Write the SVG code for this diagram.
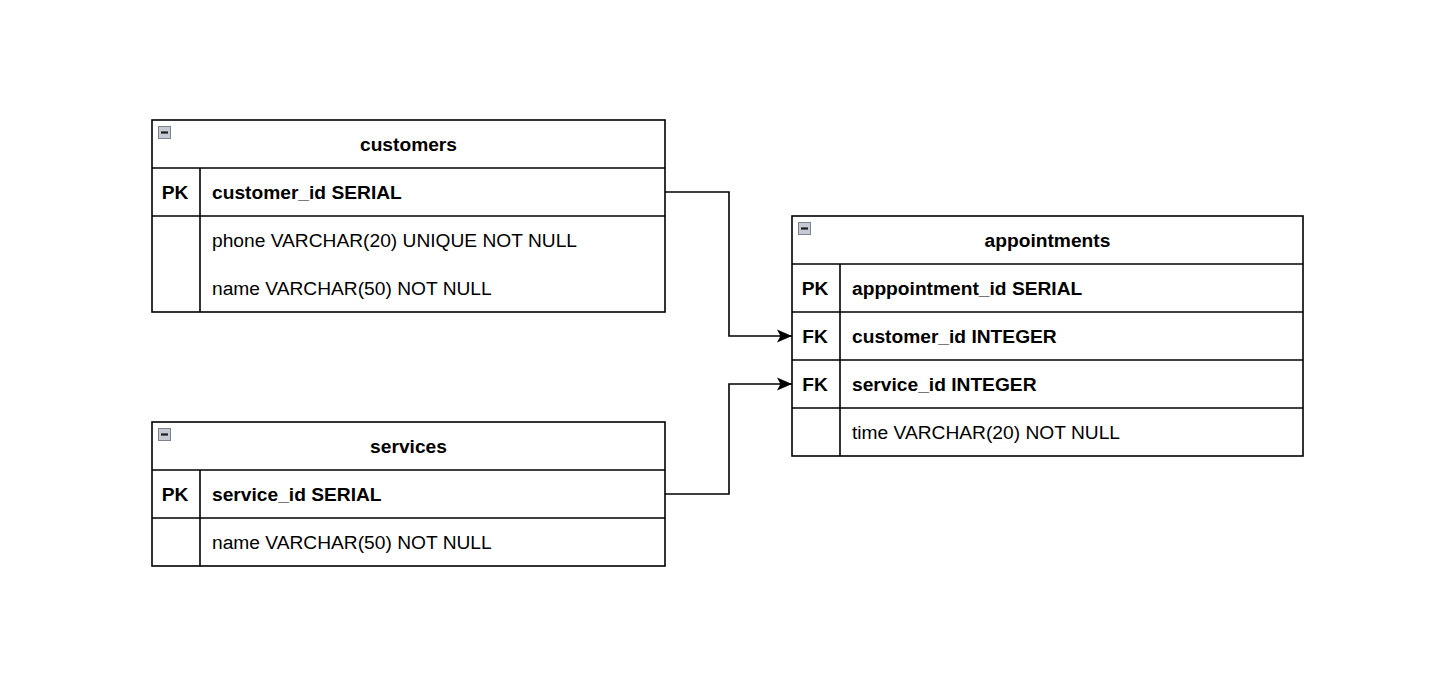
<svg xmlns="http://www.w3.org/2000/svg" width="1440" height="700" viewBox="0 0 1440 700">
<style>
.box{fill:#ffffff;stroke:#000000;stroke-width:1.6}
.ln{stroke:#000000;stroke-width:1.6;fill:none}
.t{font-family:"Liberation Sans",Arial,Helvetica,sans-serif;font-size:19.2px;fill:#000000}
.b{font-weight:bold}
.c{text-anchor:middle}
.icon{fill:#c4c9d2;stroke:#7d838c;stroke-width:1}
.minus{stroke:#1e1e1e;stroke-width:2.2}
.edge{stroke:#000000;stroke-width:1.6;fill:none}
</style>
<defs>
<marker id="arr" markerUnits="userSpaceOnUse" markerWidth="18" markerHeight="16" refX="15" refY="7" orient="auto" viewBox="0 0 18 16">
<path d="M0,0.5 L15,7 L0,13.5 L3.5,7 Z" fill="#000000"/>
</marker>
</defs>
<rect width="1440" height="700" fill="#ffffff"/>

<g id="customers">
<rect class="box" x="152" y="120" width="513" height="192"/>
<line class="ln" x1="152" y1="168" x2="665" y2="168"/>
<line class="ln" x1="152" y1="216" x2="665" y2="216"/>
<line class="ln" x1="200" y1="168" x2="200" y2="312"/>
<rect class="icon" x="158.5" y="126.5" width="12" height="12"/>
<line class="minus" x1="161" y1="132.5" x2="168" y2="132.5"/>
<text class="t b c" x="408.5" y="150.7">customers</text>
<text class="t b c" x="175" y="198.7">PK</text>
<text class="t b" x="212" y="198.7">customer_id SERIAL</text>
<text class="t" x="212" y="246.7">phone VARCHAR(20) UNIQUE NOT NULL</text>
<text class="t" x="212" y="294.7">name VARCHAR(50) NOT NULL</text>
</g>

<g id="services">
<rect class="box" x="152" y="422" width="513" height="144"/>
<line class="ln" x1="152" y1="470" x2="665" y2="470"/>
<line class="ln" x1="152" y1="518" x2="665" y2="518"/>
<line class="ln" x1="200" y1="470" x2="200" y2="566"/>
<rect class="icon" x="158.5" y="428.5" width="12" height="12"/>
<line class="minus" x1="161" y1="434.5" x2="168" y2="434.5"/>
<text class="t b c" x="408.5" y="452.7">services</text>
<text class="t b c" x="175" y="500.7">PK</text>
<text class="t b" x="212" y="500.7">service_id SERIAL</text>
<text class="t" x="212" y="548.7">name VARCHAR(50) NOT NULL</text>
</g>

<g id="appointments">
<rect class="box" x="792" y="216" width="511" height="240"/>
<line class="ln" x1="792" y1="264" x2="1303" y2="264"/>
<line class="ln" x1="792" y1="312" x2="1303" y2="312"/>
<line class="ln" x1="792" y1="360" x2="1303" y2="360"/>
<line class="ln" x1="792" y1="408" x2="1303" y2="408"/>
<line class="ln" x1="840" y1="264" x2="840" y2="456"/>
<rect class="icon" x="798.5" y="222.5" width="12" height="12"/>
<line class="minus" x1="801" y1="228.5" x2="808" y2="228.5"/>
<text class="t b c" x="1047.5" y="246.7">appointments</text>
<text class="t b c" x="815" y="294.7">PK</text>
<text class="t b" x="852" y="294.7">apppointment_id SERIAL</text>
<text class="t b c" x="815" y="342.7">FK</text>
<text class="t b" x="852" y="342.7">customer_id INTEGER</text>
<text class="t b c" x="815" y="390.7">FK</text>
<text class="t b" x="852" y="390.7">service_id INTEGER</text>
<text class="t" x="852" y="438.7">time VARCHAR(20) NOT NULL</text>
</g>

<g id="connectors">
<path class="edge" d="M665,192 L729,192 L729,336 L792,336" marker-end="url(#arr)"/>
<path class="edge" d="M665,494 L729,494 L729,384 L792,384" marker-end="url(#arr)"/>
</g>
</svg>
